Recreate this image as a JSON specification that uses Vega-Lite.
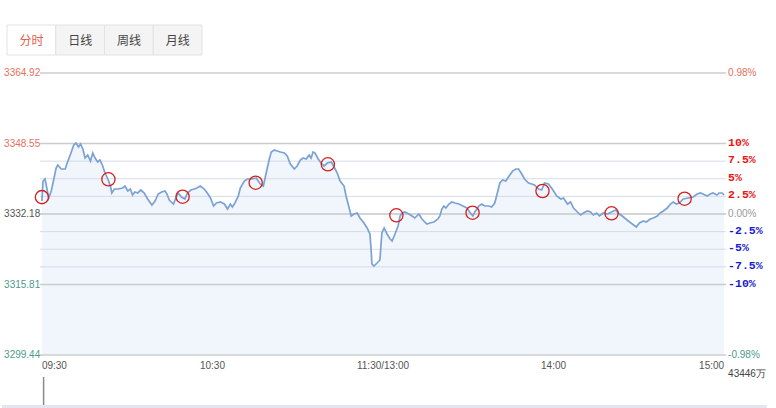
{
  "$schema": "https://vega.github.io/schema/vega-lite/v6.json",
  "width": 776,
  "height": 408,
  "autosize": {"type": "fit", "contains": "padding"},
  "padding": 0,
  "background": "#ffffff",
  "config": {"view": {"stroke": null}, "axis": {"disable": true}, "legend": {"disable": true}},
  "datasets": {
    "minute": [
      {"t":0,"p":3335.20},{"t":0.4,"p":3339.84},{"t":1.1,"p":3340.31},{"t":1.8,"p":3337.98},{"t":2.4,"p":3335.90},
      {"t":3.3,"p":3337.52},{"t":4.2,"p":3340.31},{"t":5.0,"p":3342.86},{"t":5.6,"p":3343.56},{"t":6.8,"p":3342.63},
      {"t":8.2,"p":3342.63},{"t":8.9,"p":3344.02},{"t":10.1,"p":3346.11},{"t":11.2,"p":3348.20},{"t":12.0,"p":3348.67},
      {"t":12.9,"p":3347.74},{"t":13.6,"p":3348.43},{"t":14.4,"p":3347.27},{"t":15.2,"p":3345.18},{"t":16.1,"p":3345.88},
      {"t":17.1,"p":3344.49},{"t":17.9,"p":3346.34},{"t":18.7,"p":3345.18},{"t":19.6,"p":3344.25},{"t":20.4,"p":3344.72},
      {"t":21.4,"p":3343.33},{"t":22.2,"p":3341.70},{"t":23.2,"p":3340.31},{"t":24.1,"p":3338.68},{"t":24.6,"p":3337.06},
      {"t":25.5,"p":3337.98},{"t":26.7,"p":3337.98},{"t":28.4,"p":3338.22},{"t":29.2,"p":3338.68},{"t":30.2,"p":3337.52},
      {"t":31.1,"p":3337.98},{"t":31.9,"p":3336.59},{"t":32.7,"p":3337.29},{"t":33.7,"p":3337.06},{"t":34.8,"p":3337.75},
      {"t":36.0,"p":3337.06},{"t":37.2,"p":3335.66},{"t":38.7,"p":3334.27},{"t":39.8,"p":3335.20},{"t":40.9,"p":3336.82},
      {"t":42.1,"p":3337.29},{"t":43.3,"p":3337.52},{"t":44.0,"p":3336.82},{"t":44.8,"p":3335.43},{"t":46.3,"p":3334.50},
      {"t":47.1,"p":3335.90},{"t":48.0,"p":3337.06},{"t":49.1,"p":3336.13},{"t":50.3,"p":3335.66},{"t":51.2,"p":3337.06},
      {"t":52.4,"p":3337.75},{"t":53.6,"p":3337.98},{"t":54.5,"p":3338.22},{"t":55.7,"p":3338.68},{"t":57.1,"p":3337.98},
      {"t":58.2,"p":3337.06},{"t":59.3,"p":3335.90},{"t":60.4,"p":3334.04},{"t":61.4,"p":3334.73},{"t":62.8,"p":3334.97},
      {"t":64.2,"p":3334.50},{"t":65.3,"p":3333.34},{"t":66.3,"p":3334.50},{"t":67.0,"p":3333.81},{"t":67.7,"p":3334.50},
      {"t":69.1,"p":3336.36},{"t":69.8,"p":3338.22},{"t":71.2,"p":3339.84},{"t":72.3,"p":3340.31},{"t":74.0,"p":3340.31},
      {"t":75.4,"p":3340.54},{"t":76.8,"p":3339.15},{"t":77.9,"p":3338.68},{"t":78.9,"p":3341.70},{"t":80.0,"p":3344.95},
      {"t":80.7,"p":3346.58},{"t":81.8,"p":3347.04},{"t":82.8,"p":3346.81},{"t":83.9,"p":3346.58},{"t":85.3,"p":3346.34},
      {"t":86.3,"p":3345.65},{"t":87.4,"p":3343.79},{"t":88.8,"p":3342.63},{"t":89.8,"p":3343.33},{"t":90.9,"p":3344.72},
      {"t":91.9,"p":3345.18},{"t":93.0,"p":3344.95},{"t":94.0,"p":3345.88},{"t":94.7,"p":3345.18},{"t":95.4,"p":3346.58},
      {"t":96.1,"p":3346.34},{"t":97.2,"p":3344.95},{"t":98.2,"p":3344.02},{"t":99.3,"p":3343.33},{"t":100.4,"p":3344.02},
      {"t":101.8,"p":3344.25},{"t":102.8,"p":3343.09},{"t":103.9,"p":3341.70},{"t":104.9,"p":3339.84},{"t":106.3,"p":3338.68},
      {"t":107.0,"p":3336.36},{"t":108.1,"p":3333.57},{"t":108.8,"p":3331.72},{"t":109.8,"p":3332.18},{"t":110.9,"p":3332.41},
      {"t":111.9,"p":3331.25},{"t":113.3,"p":3330.09},{"t":114.4,"p":3328.93},{"t":115.4,"p":3327.54},{"t":115.8,"p":3324.05},
      {"t":116.1,"p":3320.57},{"t":116.8,"p":3320.10},{"t":117.9,"p":3320.80},{"t":118.9,"p":3321.50},{"t":119.6,"p":3327.77},
      {"t":120.4,"p":3328.93},{"t":121.4,"p":3327.54},{"t":122.5,"p":3326.38},{"t":123.2,"p":3325.91},{"t":124.2,"p":3327.54},
      {"t":125.3,"p":3329.39},{"t":126.0,"p":3331.72},{"t":126.7,"p":3332.41},{"t":127.7,"p":3332.65},{"t":129.1,"p":3332.18},
      {"t":130.2,"p":3331.72},{"t":131.2,"p":3331.25},{"t":132.6,"p":3332.18},{"t":133.7,"p":3331.02},{"t":135.4,"p":3329.86},
      {"t":136.5,"p":3330.09},{"t":137.9,"p":3330.32},{"t":139.3,"p":3331.02},{"t":140.0,"p":3331.72},{"t":140.7,"p":3333.34},
      {"t":141.4,"p":3334.04},{"t":142.1,"p":3333.57},{"t":143.2,"p":3334.50},{"t":144.2,"p":3334.97},{"t":145.3,"p":3334.73},
      {"t":146.7,"p":3334.50},{"t":148.1,"p":3334.04},{"t":149.5,"p":3333.57},{"t":150.5,"p":3332.65},{"t":151.6,"p":3331.72},
      {"t":152.3,"p":3332.65},{"t":153.7,"p":3334.04},{"t":154.7,"p":3334.50},{"t":155.8,"p":3334.04},{"t":157.2,"p":3334.04},
      {"t":158.2,"p":3333.81},{"t":159.3,"p":3334.73},{"t":160.4,"p":3337.52},{"t":161.1,"p":3339.38},{"t":162.1,"p":3340.07},
      {"t":163.2,"p":3339.84},{"t":164.6,"p":3341.24},{"t":165.6,"p":3342.16},{"t":166.7,"p":3342.63},{"t":167.7,"p":3342.63},
      {"t":168.8,"p":3341.47},{"t":169.8,"p":3340.31},{"t":171.2,"p":3339.38},{"t":172.3,"p":3339.15},{"t":173.3,"p":3338.91},
      {"t":174.7,"p":3337.98},{"t":175.8,"p":3337.75},{"t":176.8,"p":3339.38},{"t":178.2,"p":3339.15},{"t":179.3,"p":3338.22},
      {"t":180.0,"p":3337.52},{"t":181.1,"p":3336.36},{"t":182.5,"p":3335.66},{"t":183.5,"p":3335.90},{"t":184.9,"p":3334.50},
      {"t":186.0,"p":3334.97},{"t":187.0,"p":3333.57},{"t":188.4,"p":3332.65},{"t":189.5,"p":3331.95},{"t":190.5,"p":3332.41},
      {"t":191.9,"p":3332.88},{"t":193.0,"p":3332.65},{"t":194.0,"p":3331.95},{"t":195.1,"p":3332.41},{"t":196.1,"p":3331.72},
      {"t":197.5,"p":3332.41},{"t":198.9,"p":3332.18},{"t":200.4,"p":3332.65},{"t":201.8,"p":3333.11},{"t":203.2,"p":3332.18},
      {"t":204.6,"p":3331.48},{"t":206.3,"p":3330.56},{"t":207.7,"p":3329.86},{"t":209.1,"p":3329.16},{"t":210.2,"p":3330.09},
      {"t":211.6,"p":3330.56},{"t":212.6,"p":3330.32},{"t":214.0,"p":3331.02},{"t":215.1,"p":3331.25},{"t":216.5,"p":3331.72},
      {"t":217.5,"p":3332.41},{"t":218.6,"p":3332.88},{"t":220.0,"p":3333.57},{"t":221.1,"p":3334.50},{"t":222.1,"p":3334.97},
      {"t":223.2,"p":3334.50},{"t":224.2,"p":3334.73},{"t":225.6,"p":3335.66},{"t":227.4,"p":3335.90},{"t":229.1,"p":3336.13},
      {"t":230.5,"p":3336.82},{"t":231.6,"p":3337.06},{"t":232.6,"p":3336.82},{"t":234.0,"p":3336.36},{"t":235.1,"p":3336.82},
      {"t":236.1,"p":3337.06},{"t":237.5,"p":3336.59},{"t":238.2,"p":3337.06},{"t":239.3,"p":3337.06},{"t":240,"p":3336.59}
    ],
    "marked": [
      {"t":0,"p":3336.1},{"t":23.4,"p":3340.24},{"t":49.5,"p":3336.2},{"t":75.2,"p":3339.45},{"t":100.6,"p":3343.72},
      {"t":124.7,"p":3331.88},{"t":151.5,"p":3332.48},{"t":176.1,"p":3337.52},{"t":200.4,"p":3332.34},{"t":226.1,"p":3335.73}
    ],
    "priceLevels": [
      {"p":3364.92,"dir":"up"},{"p":3348.55,"dir":"up"},{"p":3332.18,"dir":"flat"},{"p":3315.81,"dir":"down"},{"p":3299.44,"dir":"down"}
    ],
    "pctLevels": [
      {"p":3348.55,"label":"10%","dir":"up"},{"p":3344.4575,"label":"7.5%","dir":"up"},{"p":3340.365,"label":"5%","dir":"up"},
      {"p":3336.2725,"label":"2.5%","dir":"up"},{"p":3332.18,"label":"0.00%","dir":"flat"},{"p":3328.0875,"label":"-2.5%","dir":"down"},
      {"p":3323.995,"label":"-5%","dir":"down"},{"p":3319.9025,"label":"-7.5%","dir":"down"},{"p":3315.81,"label":"-10%","dir":"down"}
    ],
    "rightAxis": [
      {"p":3364.92,"label":"0.98%","dir":"up"},{"p":3299.44,"label":"-0.98%","dir":"down"}
    ],
    "timeLabels": [
      {"t":0,"label":"09:30","pos":"start"},{"t":60,"label":"10:30","pos":"mid"},{"t":120,"label":"11:30/13:00","pos":"mid"},
      {"t":180,"label":"14:00","pos":"mid"},{"t":240,"label":"15:00","pos":"end"}
    ],
    "tabs": [
      {"tab":"分时","active":"yes"},{"tab":"日线","active":"no"},{"tab":"周线","active":"no"},{"tab":"月线","active":"no"}
    ],
    "volume": [{"t":0.6,"v":43446}],
    "volMax": [{"v":43446,"label":"43446万"}]
  },
  "resolve": {"scale": {"x": "independent", "y": "independent", "color": "independent", "fill": "independent"}},
  "layer": [
    {
      "layer": [
        {
          "data": {"name": "minute"},
          "mark": {"type": "area", "color": "#f1f5fc", "opacity": 1},
          "encoding": {
            "x": {"field": "t", "type": "quantitative", "scale": {"domain": [-14.035, 258.246], "nice": false, "zero": false}},
            "y": {"field": "p", "type": "quantitative", "scale": {"domain": [3287.134, 3381.871], "nice": false, "zero": false}},
            "y2": {"datum": 3299.44}
          }
        },
        {
          "data": {"name": "pctLevels"},
          "mark": {"type": "rule", "color": "#d6dbe5", "strokeWidth": 1},
          "encoding": {
            "y": {"field": "p", "type": "quantitative", "scale": {"domain": [3287.134, 3381.871], "nice": false, "zero": false}},
            "x": {"datum": -0.7, "type": "quantitative", "scale": {"domain": [-14.035, 258.246], "nice": false, "zero": false}},
            "x2": {"datum": 240.7}
          }
        },
        {
          "data": {"name": "priceLevels"},
          "mark": {"type": "rule", "color": "#cccccc", "strokeWidth": 1.6},
          "encoding": {
            "y": {"field": "p", "type": "quantitative", "scale": {"domain": [3287.134, 3381.871], "nice": false, "zero": false}},
            "x": {"datum": -0.7, "type": "quantitative", "scale": {"domain": [-14.035, 258.246], "nice": false, "zero": false}},
            "x2": {"datum": 240.7}
          }
        },
        {
          "data": {"name": "minute"},
          "mark": {"type": "line", "color": "#7ba2d4", "strokeWidth": 1.7},
          "encoding": {
            "x": {"field": "t", "type": "quantitative", "scale": {"domain": [-14.035, 258.246], "nice": false, "zero": false}},
            "y": {"field": "p", "type": "quantitative", "scale": {"domain": [3287.134, 3381.871], "nice": false, "zero": false}}
          }
        },
        {
          "data": {"name": "marked"},
          "mark": {"type": "point", "shape": "circle", "filled": false, "color": "#d41f1f", "size": 175, "strokeWidth": 1.3, "opacity": 1},
          "encoding": {
            "x": {"field": "t", "type": "quantitative", "scale": {"domain": [-14.035, 258.246], "nice": false, "zero": false}},
            "y": {"field": "p", "type": "quantitative", "scale": {"domain": [3287.134, 3381.871], "nice": false, "zero": false}}
          }
        },
        {
          "data": {"name": "priceLevels"},
          "mark": {"type": "text", "align": "left", "baseline": "middle", "font": "Liberation Sans", "fontSize": 10},
          "encoding": {
            "x": {"datum": -13.3, "type": "quantitative", "scale": {"domain": [-14.035, 258.246], "nice": false, "zero": false}},
            "y": {"field": "p", "type": "quantitative", "scale": {"domain": [3287.134, 3381.871], "nice": false, "zero": false}},
            "text": {"field": "p", "type": "quantitative", "format": ".2f"},
            "color": {"field": "dir", "type": "nominal", "scale": {"domain": ["up", "flat", "down"], "range": ["#e4705d", "#555555", "#4c9b8c"]}, "legend": null}
          }
        },
        {
          "data": {"name": "rightAxis"},
          "mark": {"type": "text", "align": "left", "baseline": "middle", "font": "Liberation Sans", "fontSize": 10},
          "encoding": {
            "x": {"datum": 241.4, "type": "quantitative", "scale": {"domain": [-14.035, 258.246], "nice": false, "zero": false}},
            "y": {"field": "p", "type": "quantitative", "scale": {"domain": [3287.134, 3381.871], "nice": false, "zero": false}},
            "text": {"field": "label", "type": "nominal"},
            "color": {"field": "dir", "type": "nominal", "scale": {"domain": ["up", "flat", "down"], "range": ["#e4705d", "#555555", "#4c9b8c"]}, "legend": null}
          }
        },
        {
          "data": {"name": "pctLevels"},
          "transform": [{"filter": "datum.dir === 'flat'"}],
          "mark": {"type": "text", "align": "left", "baseline": "middle", "font": "Liberation Sans", "fontSize": 10, "color": "#9a9a9a"},
          "encoding": {
            "x": {"datum": 241.4, "type": "quantitative", "scale": {"domain": [-14.035, 258.246], "nice": false, "zero": false}},
            "y": {"field": "p", "type": "quantitative", "scale": {"domain": [3287.134, 3381.871], "nice": false, "zero": false}},
            "text": {"field": "label", "type": "nominal"}
          }
        },
        {
          "data": {"name": "pctLevels"},
          "transform": [{"filter": "datum.dir !== 'flat'"}],
          "mark": {"type": "text", "align": "left", "baseline": "middle", "font": "Liberation Mono", "fontSize": 11.5, "fontWeight": "bold", "dy": -1},
          "encoding": {
            "x": {"datum": 241.4, "type": "quantitative", "scale": {"domain": [-14.035, 258.246], "nice": false, "zero": false}},
            "y": {"field": "p", "type": "quantitative", "scale": {"domain": [3287.134, 3381.871], "nice": false, "zero": false}},
            "text": {"field": "label", "type": "nominal"},
            "fill": {"field": "dir", "type": "nominal", "scale": {"domain": ["up", "down"], "range": ["#f01212", "#1a1ad2"]}, "legend": null}
          }
        },
        {
          "data": {"name": "timeLabels"},
          "transform": [{"filter": "datum.pos === 'start'"}],
          "mark": {"type": "text", "align": "left", "baseline": "middle", "font": "Liberation Sans", "fontSize": 10, "color": "#555555"},
          "encoding": {
            "x": {"field": "t", "type": "quantitative", "scale": {"domain": [-14.035, 258.246], "nice": false, "zero": false}},
            "y": {"datum": 3296.89, "type": "quantitative", "scale": {"domain": [3287.134, 3381.871], "nice": false, "zero": false}},
            "text": {"field": "label", "type": "nominal"}
          }
        },
        {
          "data": {"name": "timeLabels"},
          "transform": [{"filter": "datum.pos === 'mid'"}],
          "mark": {"type": "text", "align": "center", "baseline": "middle", "font": "Liberation Sans", "fontSize": 10, "color": "#555555"},
          "encoding": {
            "x": {"field": "t", "type": "quantitative", "scale": {"domain": [-14.035, 258.246], "nice": false, "zero": false}},
            "y": {"datum": 3296.89, "type": "quantitative", "scale": {"domain": [3287.134, 3381.871], "nice": false, "zero": false}},
            "text": {"field": "label", "type": "nominal"}
          }
        },
        {
          "data": {"name": "timeLabels"},
          "transform": [{"filter": "datum.pos === 'end'"}],
          "mark": {"type": "text", "align": "right", "baseline": "middle", "font": "Liberation Sans", "fontSize": 10, "color": "#555555"},
          "encoding": {
            "x": {"field": "t", "type": "quantitative", "scale": {"domain": [-14.035, 258.246], "nice": false, "zero": false}},
            "y": {"datum": 3296.89, "type": "quantitative", "scale": {"domain": [3287.134, 3381.871], "nice": false, "zero": false}},
            "text": {"field": "label", "type": "nominal"}
          }
        },
        {
          "data": {"values": [{}]},
          "mark": {"type": "rule", "color": "#e4e6ef", "strokeWidth": 3},
          "encoding": {
            "y": {"datum": 3287.5, "type": "quantitative", "scale": {"domain": [3287.134, 3381.871], "nice": false, "zero": false}},
            "x": {"datum": -14.035, "type": "quantitative", "scale": {"domain": [-14.035, 258.246], "nice": false, "zero": false}},
            "x2": {"datum": 255.0}
          }
        }
      ]
    },
    {
      "data": {"name": "tabs"},
      "layer": [
        {
          "mark": {"type": "rect", "stroke": "#e2e2e2", "strokeWidth": 1},
          "encoding": {
            "x": {"field": "tab", "type": "nominal", "sort": null, "scale": {"type": "band", "domain": ["分时", "日线", "周线", "月线"], "range": [5, 200], "paddingInner": 0, "paddingOuter": 0}},
            "y": {"datum": 3376.07, "type": "quantitative", "scale": {"domain": [3287.134, 3381.871], "nice": false, "zero": false}},
            "y2": {"datum": 3369.1},
            "fill": {"field": "active", "type": "nominal", "scale": {"domain": ["yes", "no"], "range": ["#ffffff", "#f4f4f4"]}, "legend": null}
          }
        },
        {
          "mark": {"type": "text", "font": "Noto Sans CJK SC", "fontSize": 12, "baseline": "middle", "align": "center"},
          "encoding": {
            "x": {"field": "tab", "type": "nominal", "sort": null, "scale": {"type": "band", "domain": ["分时", "日线", "周线", "月线"], "range": [5, 200], "paddingInner": 0, "paddingOuter": 0}},
            "y": {"datum": 3372.4, "type": "quantitative", "scale": {"domain": [3287.134, 3381.871], "nice": false, "zero": false}},
            "text": {"field": "tab", "type": "nominal"},
            "color": {"field": "active", "type": "nominal", "scale": {"domain": ["yes", "no"], "range": ["#e0604d", "#444444"]}, "legend": null}
          }
        }
      ]
    },
    {
      "layer": [
        {
          "data": {"name": "volume"},
          "mark": {"type": "rule", "color": "#8a8a8a", "strokeWidth": 1.5},
          "encoding": {
            "x": {"field": "t", "type": "quantitative", "scale": {"domain": [-14.035, 258.246], "nice": false, "zero": false}},
            "y": {"field": "v", "type": "quantitative", "scale": {"domain": [-4654.9, 628414], "nice": false, "zero": false}},
            "y2": {"datum": 0}
          }
        },
        {
          "data": {"name": "volMax"},
          "mark": {"type": "text", "align": "left", "baseline": "middle", "font": "Liberation Sans", "fontSize": 10, "color": "#444444", "dy": -3},
          "encoding": {
            "x": {"datum": 241.4, "type": "quantitative", "scale": {"domain": [-14.035, 258.246], "nice": false, "zero": false}},
            "y": {"field": "v", "type": "quantitative", "scale": {"domain": [-4654.9, 628414], "nice": false, "zero": false}},
            "text": {"field": "label", "type": "nominal"}
          }
        }
      ]
    }
  ]
}
